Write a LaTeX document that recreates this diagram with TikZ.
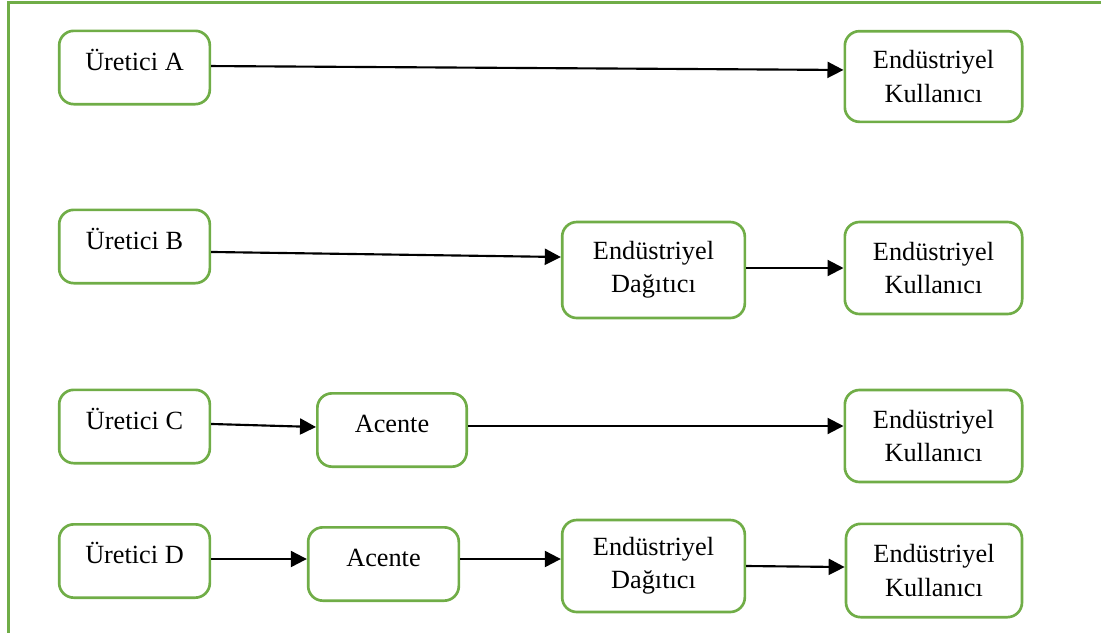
\documentclass[tikz,border=0pt]{standalone}
\usepackage{fontspec}
\setmainfont{Liberation Serif}
\usetikzlibrary{arrows.meta}
\definecolor{boxgreen}{HTML}{70AD47}
\begin{document}
\begin{tikzpicture}[x=0.75pt,y=-0.75pt,
  stage/.style={draw=boxgreen, line width=2pt, rounded corners=11pt, fill=white,
    align=center, inner sep=0pt, font=\fontsize{19.7}{25}\selectfont},
  single/.style={stage, text height=15pt, text depth=11pt},
  flow/.style={line width=1.6pt, -{Triangle[length=12pt,width=12pt]}},
  frame/.style={draw=boxgreen, line width=2pt}]
  \useasboundingbox (0,0) rectangle (1101,633);
  % outer frame: top and left edges
  \draw[frame] (1101,2.5) -- (8.7,2.5) -- (8.7,633);

  % row A
  \node[single, minimum width=113pt, minimum height=55pt] (ua) at (134.5,67.5) {Üretici A};
  \node[stage, minimum width=133pt, minimum height=68pt] (ka) at (933.5,76.5) {Endüstriyel\\Kullanıcı};
  % row B
  \node[single, minimum width=113pt, minimum height=55pt] (ub) at (134.5,246.5) {Üretici B};
  \node[stage, minimum width=137pt, minimum height=72pt] (db) at (653.5,270) {Endüstriyel\\Dağıtıcı};
  \node[stage, minimum width=133pt, minimum height=69pt] (kb) at (933.5,268) {Endüstriyel\\Kullanıcı};
  % row C
  \node[single, minimum width=113pt, minimum height=55pt] (uc) at (134.5,426.5) {Üretici C};
  \node[single, minimum width=112pt, minimum height=55pt] (ac) at (392,430) {Acente};
  \node[stage, minimum width=133pt, minimum height=69pt] (kc) at (933.5,436) {Endüstriyel\\Kullanıcı};
  % row D
  \node[single, minimum width=113pt, minimum height=55pt] (ud) at (134.5,561) {Üretici D};
  \node[single, minimum width=113pt, minimum height=55pt] (ad) at (383.5,564) {Acente};
  \node[stage, minimum width=137pt, minimum height=69pt] (dd) at (653.5,566) {Endüstriyel\\Dağıtıcı};
  \node[stage, minimum width=132pt, minimum height=70pt] (kd) at (934,570.5) {Endüstriyel\\Kullanıcı};

  % connectors
  \draw[flow] ([yshift=1.1pt]ua.east) -- ([yshift=4.9pt]ka.west);
  \draw[flow] ([yshift=-4.1pt]ub.east) -- ([yshift=9.75pt]db.west);
  \draw[flow] ([yshift=1.5pt]db.east) -- (kb.west);
  \draw[flow] ([yshift=1.9pt]uc.east) -- ([yshift=2.25pt]ac.west);
  \draw[flow] ([yshift=3pt]ac.east) -- ([yshift=7.5pt]kc.west);
  \draw[flow] ([yshift=1.5pt]ud.east) -- ([yshift=3.75pt]ad.west);
  \draw[flow] ([yshift=3.75pt]ad.east) -- ([yshift=5.25pt]dd.west);
  \draw[flow] (dd.east) -- ([yshift=2.6pt]kd.west);
\end{tikzpicture}
\end{document}
